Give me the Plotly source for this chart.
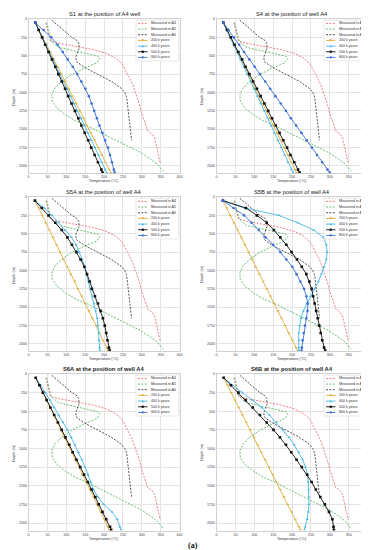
import plotly.graph_objects as go

# ---------------- data ----------------
DEPTH = [50, 150, 250, 350, 450, 550, 650, 750, 850, 950, 1050, 1150, 1250,
         1350, 1450, 1550, 1650, 1750, 1850, 1950, 2050, 2090]

A4_T = [46, 50, 54, 58, 80, 125, 170, 205, 230, 248, 258, 265, 276, 286, 294,
        301, 309, 316, 327, 334, 340, 345, 349]
A4_D = [50, 150, 250, 300, 330, 370, 415, 465, 530, 610, 700, 780, 890, 1030,
        1165, 1300, 1435, 1525, 1565, 1620, 1755, 1890, 1960]
A5_T = [48, 52, 56, 60, 79, 123, 167, 185, 189, 180, 149, 114, 88, 70, 62, 63,
        75, 97, 123, 158, 193, 229, 264, 299, 325, 343, 356]
A5_D = [50, 150, 250, 300, 385, 440, 485, 508, 540, 600, 667, 757, 848, 939,
        1029, 1120, 1211, 1302, 1383, 1460, 1551, 1642, 1732, 1823, 1914, 1982, 2072]
A6_T = [62, 80, 100, 115, 128, 133, 134, 130, 125, 127, 140, 160, 190, 220,
        245, 255, 260, 263, 266, 270, 273]
A6_D = [18, 100, 190, 250, 290, 330, 400, 460, 520, 580, 630, 690, 770, 850,
        940, 1000, 1060, 1200, 1350, 1500, 1650]

TITLES = ["S1 at the position of A4 well", "S4 at the position of well A4",
          "S5A at the position of well A4", "S5B at the position of well A4",
          "S6A at the position of well A4", "S6B at the position of well A4"]

S1_200 = [18, 28, 38, 48, 58, 67, 77, 87, 97, 107, 116, 126, 136, 146, 155, 165, 175, 185, 194, 204, 214, 218]
S1_400 = [18, 27, 37, 46, 55, 65, 74, 83, 92, 102, 111, 120, 129, 139, 148, 157, 166, 176, 185, 194, 203, 207]
S1_500 = [18, 27, 36, 44, 53, 62, 71, 79, 88, 97, 105, 114, 123, 132, 140, 149, 158, 166, 175, 184, 193, 196]
S1_800 = [18, 40, 60, 77, 91, 104, 117, 129, 140, 151, 160, 167, 174, 181, 188, 196, 203, 211, 216, 221, 226, 228]

S4_200 = [18, 27, 37, 46, 56, 65, 75, 84, 94, 103, 113, 122, 132, 141, 151, 160, 170, 179, 189, 198, 208, 212]
S4_400 = [18, 27, 36, 45, 54, 63, 72, 81, 90, 99, 108, 117, 126, 135, 144, 153, 162, 171, 180, 189, 198, 203]
S4_500 = [18, 28, 38, 48, 58, 68, 77, 87, 97, 107, 117, 127, 137, 147, 157, 167, 177, 187, 196, 206, 216, 220]
S4_800 = [18, 32, 46, 60, 73, 87, 101, 115, 129, 142, 156, 170, 184, 197, 211, 225, 239, 253, 266, 280, 294, 300]

S5A_200 = [17, 27, 36, 46, 55, 65, 74, 84, 93, 103, 112, 122, 131, 141, 150, 160, 169, 179, 188, 198, 207, 211]
S5A_400 = [17, 42, 62, 80, 96, 114, 126, 135, 142, 149, 154, 159, 164, 169, 174, 178, 182, 184, 186, 187, 188, 189]
S5A_500 = [17, 35, 53, 71, 88, 103, 115, 127, 138, 148, 155, 162, 168, 176, 184, 191, 197, 202, 206, 209, 213, 215]
S5A_800 = []

S5B_200 = [17, 27, 36, 46, 56, 66, 75, 85, 95, 104, 114, 124, 133, 143, 153, 162, 172, 182, 191, 201, 211, 215]
S5B_400 = [17, 75, 165, 215, 258, 283, 291, 293, 291, 285, 278, 270, 260, 249, 239, 230, 224, 220, 218, 218, 218, 218]
S5B_500 = [17, 78, 107, 133, 152, 169, 185, 199, 213, 226, 238, 246, 252, 256, 260, 264, 268, 272, 276, 280, 285, 288]
S5B_800 = [17, 45, 73, 93, 112, 130, 150, 169, 185, 201, 212, 222, 232, 238, 242, 241, 238, 234, 231, 228, 226, 225]

S6A_200 = [19, 28, 38, 48, 57, 67, 76, 86, 95, 105, 115, 124, 134, 143, 153, 163, 172, 182, 191, 201, 210, 214]
S6A_400 = [19, 32, 45, 57, 68, 80, 92, 103, 113, 123, 132, 141, 150, 158, 165, 172, 184, 199, 221, 235, 242, 245]
S6A_500 = [19, 29, 38, 48, 58, 68, 78, 88, 98, 108, 117, 127, 137, 147, 157, 167, 177, 186, 196, 206, 216, 219]
S6A_800 = []

S6B_200 = [19, 29, 39, 49, 59, 69, 79, 89, 99, 109, 119, 129, 139, 149, 159, 169, 179, 189, 199, 209, 219, 222]
S6B_400 = [19, 42, 68, 95, 120, 140, 158, 176, 192, 206, 218, 228, 236, 241, 243, 244, 245, 245, 243, 240, 235, 233]
S6B_500 = [19, 38, 58, 77, 96, 115, 133, 151, 168, 184, 198, 212, 226, 240, 252, 263, 275, 287, 298, 307, 310, 311]
S6B_800 = []

SIMS = [(S1_200, S1_400, S1_500, S1_800), (S4_200, S4_400, S4_500, S4_800),
        (S5A_200, S5A_400, S5A_500, S5A_800), (S5B_200, S5B_400, S5B_500, S5B_800),
        (S6A_200, S6A_400, S6A_500, S6A_800), (S6B_200, S6B_400, S6B_500, S6B_800)]

X_TICKS = [0, 50, 100, 150, 200, 250, 300, 350, 400]
Y_TICKS = [0, 250, 500, 750, 1000, 1250, 1500, 1750, 2000]
MEAS_NAMES = ["Measured in A4", "Measured in A5", "Measured in A6"]
SIM_NAMES = ["200 k years", "400 k years", "500 k years", "800 k years"]

# ---------------- style ----------------
W, H = 369, 550
COLS = [(20.5, 171.5), (208.5, 359.5)]
ROWS = [(11, 165.3), (189, 343.3), (366, 522.5)]
MEAS_COL = ["#e8707a", "#5cb868", "#404040"]
SIM_COL = ["#dfae3c", "#45b8e6", "#111111", "#3b6fd6"]
SIM_SYM = ["triangle-down", "triangle-up", "square", "circle"]
DASH = "2px,1.4px"
FONT = "Liberation Sans, Arial, sans-serif"


def fx(p):
    return p / W


def fy(p):
    return 1 - p / H


fig = go.Figure()
annotations = []
shapes = []
meas = [(A4_T, A4_D), (A5_T, A5_D), (A6_T, A6_D)]

for k in range(6):
    r, c = divmod(k, 2)
    x0, x1 = COLS[c]
    y0, y1 = ROWS[r]
    sfx = "" if k == 0 else str(k + 1)
    xa, ya = "x" + sfx, "y" + sfx

    for (tv, dv), col, nm in zip(meas, MEAS_COL, MEAS_NAMES):
        fig.add_trace(go.Scatter(x=tv, y=dv, mode="lines", name=nm, showlegend=False,
                                 line=dict(color=col, width=0.9, dash=DASH),
                                 xaxis=xa, yaxis=ya))
    for vals, col, sym, nm in zip(SIMS[k], SIM_COL, SIM_SYM, SIM_NAMES):
        fig.add_trace(go.Scatter(x=vals, y=DEPTH[:len(vals)], mode="lines+markers", name=nm,
                                 showlegend=False,
                                 line=dict(color=col, width=0.9),
                                 marker=dict(color=col, symbol=sym, size=2.6, line=dict(width=0)),
                                 xaxis=xa, yaxis=ya))

    common = dict(showgrid=True, gridcolor="#e4e4e4", gridwidth=0.6, zeroline=False,
                  showline=True, linecolor="#d0d0d0", linewidth=0.6, mirror=True,
                  ticks="", tickfont=dict(size=3.6, color="#444", family=FONT))
    fig.layout["xaxis" + sfx] = dict(domain=[fx(x0), fx(x1)], range=[0, 400], anchor=ya,
                                     tickvals=X_TICKS, **common)
    fig.layout["yaxis" + sfx] = dict(domain=[fy(y1), fy(y0)], range=[2100, 0], anchor=xa,
                                     tickvals=Y_TICKS, **common)

    title = TITLES[k] if r < 2 else "<b>" + TITLES[k] + "</b>"
    annotations.append(dict(text=title, x=fx((x0 + x1) / 2), y=fy(y0 - 5), xref="paper",
                            yref="paper", showarrow=False, xanchor="center", yanchor="middle",
                            font=dict(size=5.8, color="#222", family=FONT)))
    annotations.append(dict(text="Temperature (°C)", x=fx((x0 + x1) / 2), y=fy(y1 + 8),
                            xref="paper", yref="paper", showarrow=False, xanchor="center",
                            yanchor="middle", font=dict(size=3.8, color="#333", family=FONT)))
    annotations.append(dict(text="Depth (m)", x=fx(x0 - 14), y=fy((y0 + y1) / 2),
                            xref="paper", yref="paper", showarrow=False, textangle=-90,
                            xanchor="center", yanchor="middle",
                            font=dict(size=3.8, color="#333", family=FONT)))

    # legend box
    lx0, lx1 = x1 - 43.5, x1 - 0.8
    ly0, ly1 = y0 + 1.2, y0 + 42
    shapes.append(dict(type="rect", xref="paper", yref="paper", x0=fx(lx0), x1=fx(lx1),
                       y0=fy(ly1), y1=fy(ly0), fillcolor="rgba(255,255,255,0.85)",
                       line=dict(color="#d0d0d0", width=0.5), layer="above"))
    names = MEAS_NAMES + SIM_NAMES
    cols = MEAS_COL + SIM_COL
    for i, (nm, col) in enumerate(zip(names, cols)):
        yc = y0 + 4.4 + i * 5.67
        shapes.append(dict(type="line", xref="paper", yref="paper", x0=fx(x1 - 41.5),
                           x1=fx(x1 - 32), y0=fy(yc), y1=fy(yc), layer="above",
                           line=dict(color=col, width=0.9, dash=DASH if i < 3 else "solid")))
        if i >= 3:
            mx = x1 - 36.75
            s = 1.1
            sym = SIM_SYM[i - 3]
            if sym == "square":
                shapes.append(dict(type="rect", xref="paper", yref="paper", x0=fx(mx - s),
                                   x1=fx(mx + s), y0=fy(yc + s), y1=fy(yc - s), layer="above",
                                   fillcolor=col, line=dict(width=0)))
            elif sym == "circle":
                shapes.append(dict(type="circle", xref="paper", yref="paper", x0=fx(mx - s),
                                   x1=fx(mx + s), y0=fy(yc + s), y1=fy(yc - s), layer="above",
                                   fillcolor=col, line=dict(width=0)))
            else:
                d = 1 if sym == "triangle-down" else -1
                p = "M {:.5f},{:.5f} L {:.5f},{:.5f} L {:.5f},{:.5f} Z".format(
                    fx(mx - s * 1.2), fy(yc - d * s), fx(mx + s * 1.2), fy(yc - d * s),
                    fx(mx), fy(yc + d * s))
                shapes.append(dict(type="path", xref="paper", yref="paper", path=p,
                                   layer="above", fillcolor=col, line=dict(width=0)))
        annotations.append(dict(text=nm, x=fx(x1 - 30.5), y=fy(yc), xref="paper",
                                yref="paper", showarrow=False, xanchor="left",
                                yanchor="middle",
                                font=dict(size=3.6, color="#333", family=FONT)))

annotations.append(dict(text="<b>(a)</b>", x=fx(185), y=fy(537), xref="paper", yref="paper",
                        showarrow=False, xanchor="center", yanchor="middle", borderpad=0,
                        font=dict(size=8, color="#111", family="Liberation Serif, serif")))

fig.update_layout(width=W, height=H, margin=dict(l=0, r=0, t=0, b=0, autoexpand=False),
                  paper_bgcolor="white", plot_bgcolor="white", showlegend=False,
                  annotations=annotations, shapes=shapes, font=dict(family=FONT))

fig.write_html("out.html")
